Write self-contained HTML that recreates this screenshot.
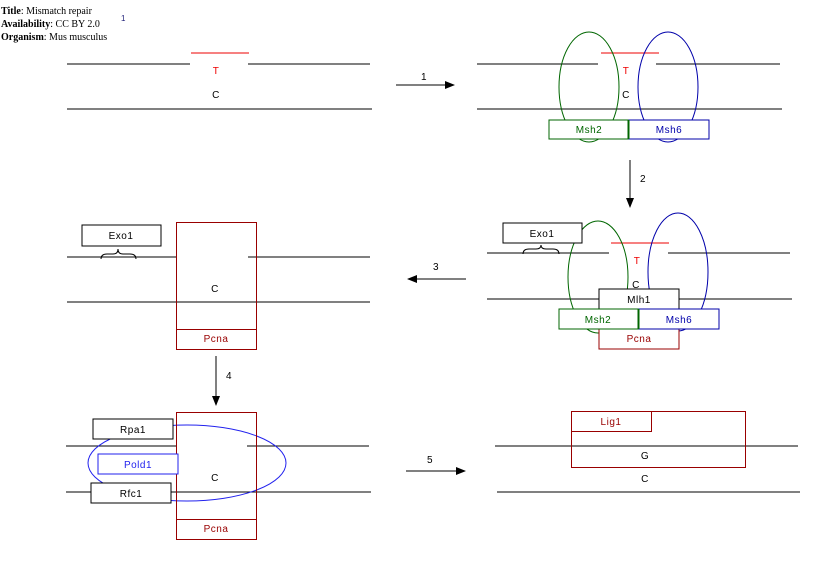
<!DOCTYPE html>
<html><head><style>body{margin:0;background:#fff}svg{display:block}text{font-family:"Liberation Sans",sans-serif;font-size:10px;letter-spacing:0.5px}line,rect{shape-rendering:crispEdges}</style></head><body>
<svg width="830" height="569" viewBox="0 0 830 569" xmlns="http://www.w3.org/2000/svg">
<defs><marker id="a" markerWidth="10" markerHeight="8" refX="9" refY="4" orient="auto" markerUnits="userSpaceOnUse"><path d="M0,0L10,4L0,8z" fill="#000"/></marker></defs>
<g style="font-family:'Liberation Serif',serif;font-size:10px">
<text x="1" y="14" style="font-family:'Liberation Serif',serif;letter-spacing:0" font-weight="bold">Title<tspan font-weight="normal">:    Mismatch repair</tspan></text>
<text x="1" y="27" style="font-family:'Liberation Serif',serif;letter-spacing:0" font-weight="bold">Availability<tspan font-weight="normal">:    CC BY 2.0</tspan></text>
<text x="1" y="40" style="font-family:'Liberation Serif',serif;letter-spacing:0" font-weight="bold">Organism<tspan font-weight="normal">:    Mus musculus</tspan></text>
</g>
<text x="121" y="21" fill="#22227a" style="font-size:8px">1</text>
<g stroke="#000" stroke-width="1" fill="none">
<line x1="67" y1="64" x2="190" y2="64"/><line x1="248" y1="64" x2="370" y2="64"/>
<line x1="67" y1="109" x2="372" y2="109"/>
<line x1="477" y1="64" x2="598" y2="64"/><line x1="656" y1="64" x2="780" y2="64"/>
<line x1="477" y1="109" x2="782" y2="109"/>
<line x1="487" y1="253" x2="609" y2="253"/><line x1="668" y1="253" x2="790" y2="253"/>
<line x1="487" y1="299" x2="792" y2="299"/>
<line x1="67" y1="257" x2="176" y2="257"/><line x1="248" y1="257" x2="370" y2="257"/>
<line x1="67" y1="302" x2="370" y2="302"/>
<line x1="66" y1="446" x2="176" y2="446"/><line x1="247" y1="446" x2="369" y2="446"/>
<line x1="66" y1="492" x2="371" y2="492"/>
<line x1="495" y1="446" x2="798" y2="446"/><line x1="497" y1="492" x2="800" y2="492"/>
<line x1="396" y1="85" x2="454" y2="85" marker-end="url(#a)"/>
<line x1="630" y1="160" x2="630" y2="207" marker-end="url(#a)"/>
<line x1="466" y1="279" x2="408" y2="279" marker-end="url(#a)"/>
<line x1="216" y1="356" x2="216" y2="405" marker-end="url(#a)"/>
<line x1="406" y1="471" x2="465" y2="471" marker-end="url(#a)"/>
</g>
<g stroke="#e00" fill="none"><line x1="191" y1="53" x2="249" y2="53"/><line x1="601" y1="53" x2="659" y2="53"/><line x1="611" y1="243" x2="669" y2="243"/></g>
<g font-size="10" text-anchor="middle">
<text x="216" y="74" fill="#e00">T</text><text x="216" y="98">C</text>
<text x="626" y="74" fill="#e00">T</text><text x="626" y="98">C</text>
<text x="637" y="264" fill="#e00">T</text><text x="636" y="288">C</text>
<text x="215" y="292">C</text><text x="215" y="481">C</text>
<text x="645" y="459">G</text><text x="645" y="482">C</text>
<text x="424" y="80">1</text><text x="643" y="182">2</text><text x="436" y="270">3</text><text x="229" y="379">4</text><text x="430" y="463">5</text>
</g>
<ellipse cx="589" cy="87" rx="30" ry="55" fill="none" stroke="#060"/>
<ellipse cx="668" cy="87" rx="30" ry="55" fill="none" stroke="#00a"/>
<rect x="549" y="120" width="79" height="19" fill="#fff" stroke="#060"/>
<rect x="629" y="120" width="80" height="19" fill="#fff" stroke="#00a"/>
<line x1="628.5" y1="120" x2="628.5" y2="139" stroke="#060" stroke-width="2"/>
<text x="589" y="133" fill="#060" text-anchor="middle">Msh2</text>
<text x="669" y="133" fill="#00a" text-anchor="middle">Msh6</text>
<ellipse cx="598" cy="277" rx="30" ry="56" fill="none" stroke="#060"/>
<ellipse cx="678" cy="272" rx="30" ry="59" fill="none" stroke="#00a"/>
<rect x="503" y="223" width="79" height="20" fill="#fff" stroke="#000"/>
<text x="542" y="237" text-anchor="middle">Exo1</text>
<path d="M523,254 q0,-5 6,-5 h7 q5,0 5,-4 q0,4 5,4 h7 q6,0 6,5" fill="none" stroke="#000"/>
<rect x="599" y="289" width="80" height="20" fill="#fff" stroke="#000"/>
<text x="639" y="303" text-anchor="middle">Mlh1</text>
<rect x="599" y="329" width="80" height="20" fill="#fff" stroke="#900"/>
<text x="639" y="342" fill="#900" text-anchor="middle">Pcna</text>
<rect x="559" y="309" width="79" height="20" fill="#fff" stroke="#060"/>
<rect x="639" y="309" width="80" height="20" fill="#fff" stroke="#00a"/>
<line x1="638.5" y1="309" x2="638.5" y2="329" stroke="#060" stroke-width="2"/>
<text x="598" y="323" fill="#060" text-anchor="middle">Msh2</text>
<text x="679" y="323" fill="#00a" text-anchor="middle">Msh6</text>
<rect x="82" y="225" width="79" height="21" fill="#fff" stroke="#000"/>
<text x="121" y="239" text-anchor="middle">Exo1</text>
<path d="M101,259 q0,-5 6,-5 h6 q5,0 5,-5 q0,5 5,5 h7 q6,0 6,5" fill="none" stroke="#000"/>
<rect x="176.5" y="222.5" width="80" height="127" fill="none" stroke="#900"/>
<line x1="176" y1="329.5" x2="256" y2="329.5" stroke="#900"/>
<text x="216" y="342" fill="#900" text-anchor="middle">Pcna</text>
<ellipse cx="187" cy="463" rx="99" ry="38" fill="none" stroke="#22e"/>
<rect x="176.5" y="412.5" width="80" height="127" fill="none" stroke="#900"/>
<line x1="176" y1="519.5" x2="256" y2="519.5" stroke="#900"/>
<text x="216" y="532" fill="#900" text-anchor="middle">Pcna</text>
<rect x="93" y="419" width="80" height="20" fill="#fff" stroke="#000"/>
<text x="133" y="433" text-anchor="middle">Rpa1</text>
<rect x="98" y="454" width="80" height="20" fill="#fff" stroke="#22e"/>
<text x="138" y="468" fill="#22e" text-anchor="middle">Pold1</text>
<rect x="91" y="483" width="80" height="20" fill="#fff" stroke="#000"/>
<text x="131" y="497" text-anchor="middle">Rfc1</text>
<rect x="571.5" y="411.5" width="174" height="56" fill="none" stroke="#900"/>
<rect x="571.5" y="411.5" width="80" height="20" fill="#fff" stroke="#900"/>
<text x="611" y="425" fill="#900" text-anchor="middle">Lig1</text>
</svg>
</body></html>
